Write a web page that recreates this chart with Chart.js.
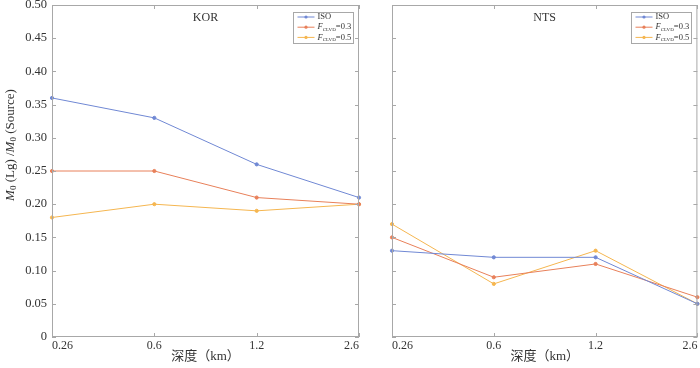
<!DOCTYPE html>
<html>
<head>
<meta charset="utf-8">
<script src="https://cdn.jsdelivr.net/npm/chart.js@4"></script>
<style>
  html, body { margin: 0; padding: 0; background: #fff; overflow: hidden; }
  #wrap { position: relative; width: 700px; height: 368px; }
  .panel { position: absolute; top: 0; height: 368px; }
  #left { left: 0; width: 365px; }
  #right { left: 385px; width: 315px; }
</style>
</head>
<body>
<div id="wrap">
  <div class="panel" id="left"><canvas id="korChart"></canvas></div>
  <div class="panel" id="right"><canvas id="ntsChart"></canvas></div>
</div>
<script>
/* ---------- data ---------- */
const depths = ["0.26", "0.6", "1.2", "2.6"];
const korIso = [0.36, 0.33, 0.26, 0.21];
const korF03 = [0.25, 0.25, 0.21, 0.20];
const korF05 = [0.18, 0.20, 0.19, 0.20];
const ntsIso = [0.13, 0.12, 0.12, 0.05];
const ntsF03 = [0.15, 0.09, 0.11, 0.06];
const ntsF05 = [0.17, 0.08, 0.13, 0.05];
const seriesNames = ["ISO", "0.3", "0.5"];
const seriesColors = ["#7088d4", "#e8805a", "#f5b650"];

const SERIF = '"Liberation Serif", "Noto Sans CJK SC", serif';
const frameColor = "#a8a8a8";
const textColor = "#333";

/* ---------- frame, inward ticks, titles, legend ---------- */
const panelDecor = {
  id: "panelDecor",
  afterDraw(chart, args, opts) {
    const { ctx, chartArea: a, scales } = chart;
    const x = scales.x, y = scales.y;
    ctx.save();
    ctx.strokeStyle = frameColor;
    ctx.lineWidth = 1;
    ctx.strokeRect(a.left + 0.5, a.top + 0.5, a.right - a.left - 1, a.bottom - a.top - 1);

    // inward ticks
    ctx.beginPath();
    y.ticks.forEach((t) => {
      const py = Math.round(y.getPixelForValue(t.value)) + 0.5;
      ctx.moveTo(a.left, py); ctx.lineTo(a.left + 4, py);
      ctx.moveTo(a.right - 4, py); ctx.lineTo(a.right, py);
    });
    x.ticks.forEach((t, i) => {
      const px = Math.round(x.getPixelForTick(i)) + 0.5;
      ctx.moveTo(px, a.bottom); ctx.lineTo(px, a.bottom - 4);
      ctx.moveTo(px, a.top); ctx.lineTo(px, a.top + 4);
    });
    ctx.stroke();

    const cx = (a.left + a.right) / 2;
    ctx.fillStyle = textColor;
    ctx.textAlign = "center";
    ctx.textBaseline = "middle";
    ctx.font = "12px " + SERIF;
    ctx.fillText(opts.title, cx, 18);

    ctx.font = "13px " + SERIF;
    ctx.fillText("深度（km）", cx, 357);

    if (opts.yTitle) {
      ctx.save();
      ctx.translate(11, 145);
      ctx.rotate(-Math.PI / 2);
      const parts = [
        ["M", "italic 13px " + SERIF, 0],
        ["0", "9px " + SERIF, 3],
        [" (Lg) /", "13px " + SERIF, 0],
        ["M", "italic 13px " + SERIF, 0],
        ["0", "9px " + SERIF, 3],
        [" (Source)", "13px " + SERIF, 0],
      ];
      let w = 0;
      parts.forEach((p) => { ctx.font = p[1]; w += ctx.measureText(p[0]).width; });
      let px = -w / 2;
      ctx.textAlign = "left";
      parts.forEach((p) => {
        ctx.font = p[1];
        ctx.fillText(p[0], px, p[2]);
        px += ctx.measureText(p[0]).width;
      });
      ctx.restore();
    }

    // legend
    const bw = 60, bh = 31;
    const bx = Math.round(a.right - 6 - bw) + 0.5, by = Math.round(a.top + 7) + 0.5;
    ctx.fillStyle = "#fff";
    ctx.fillRect(bx, by, bw, bh);
    ctx.strokeStyle = frameColor;
    ctx.strokeRect(bx, by, bw, bh);
    ctx.textAlign = "left";
    seriesNames.forEach((name, i) => {
      const ry = by + 4.5 + i * 10.2;
      ctx.strokeStyle = seriesColors[i];
      ctx.beginPath();
      ctx.moveTo(bx + 4, ry); ctx.lineTo(bx + 21, ry);
      ctx.stroke();
      ctx.fillStyle = seriesColors[i];
      ctx.beginPath();
      ctx.arc(bx + 12.5, ry, 1.6, 0, Math.PI * 2);
      ctx.fill();
      ctx.fillStyle = textColor;
      let tx = bx + 24;
      if (i === 0) {
        ctx.font = "8.5px " + SERIF;
        ctx.fillText(name, tx, ry);
      } else {
        ctx.font = "italic 8.5px " + SERIF;
        ctx.fillText("F", tx, ry);
        tx += ctx.measureText("F").width;
        ctx.font = "5px " + SERIF;
        ctx.fillText("CLVD", tx, ry + 2);
        tx += ctx.measureText("CLVD").width;
        ctx.font = "8.5px " + SERIF;
        ctx.fillText("=" + name, tx, ry);
      }
    });
    ctx.restore();
  },
};

function makeDatasets(iso, f03, f05) {
  return [iso, f03, f05].map((vals, i) => ({
    label: seriesNames[i],
    data: vals,
    borderColor: seriesColors[i],
    backgroundColor: seriesColors[i],
    borderWidth: 1,
    pointRadius: 1.6,
    pointHoverRadius: 1.6,
    tension: 0,
    clip: false,
  }));
}

function makeChart(canvasId, datasets, opts) {
  return new Chart(document.getElementById(canvasId), {
    type: "line",
    plugins: [panelDecor],
    data: { labels: depths, datasets: datasets },
    options: {
      responsive: true,
      maintainAspectRatio: false,
      animation: false,
      layout: { padding: { top: 5, right: opts.padRight, left: 0, bottom: 0 } },
      plugins: {
        legend: { display: false },
        tooltip: { enabled: false },
        panelDecor: { title: opts.title, yTitle: opts.yTitle },
      },
      scales: {
        x: {
          type: "category",
          offset: false,
          grid: { display: false, drawTicks: false },
          border: { display: false },
          ticks: {
            color: textColor,
            font: { family: SERIF, size: 12 },
            padding: 2,
            align: "inner",
            maxRotation: 0,
            autoSkip: false,
          },
          afterFit: (s) => { s.height = 31; s.paddingLeft = 0; s.paddingRight = 0; },
        },
        y: {
          min: 0,
          max: 0.5,
          grid: { display: false, drawTicks: false },
          border: { display: false },
          ticks: {
            display: opts.yTitle,
            stepSize: 0.05,
            color: textColor,
            font: { family: SERIF, size: 12.5 },
            padding: 5,
            callback: (v) => (Math.abs(v) < 1e-9 ? "0" : Number(v).toFixed(2)),
          },
          afterFit: (s) => { s.width = opts.yWidth; s.paddingTop = 0; s.paddingBottom = 0; },
        },
      },
    },
  });
}

makeChart("korChart", makeDatasets(korIso, korF03, korF05),
  { title: "KOR", yTitle: true, yWidth: 52, padRight: 6 });
makeChart("ntsChart", makeDatasets(ntsIso, ntsF03, ntsF05),
  { title: "NTS", yTitle: false, yWidth: 7, padRight: 2 });
</script>
</body>
</html>
